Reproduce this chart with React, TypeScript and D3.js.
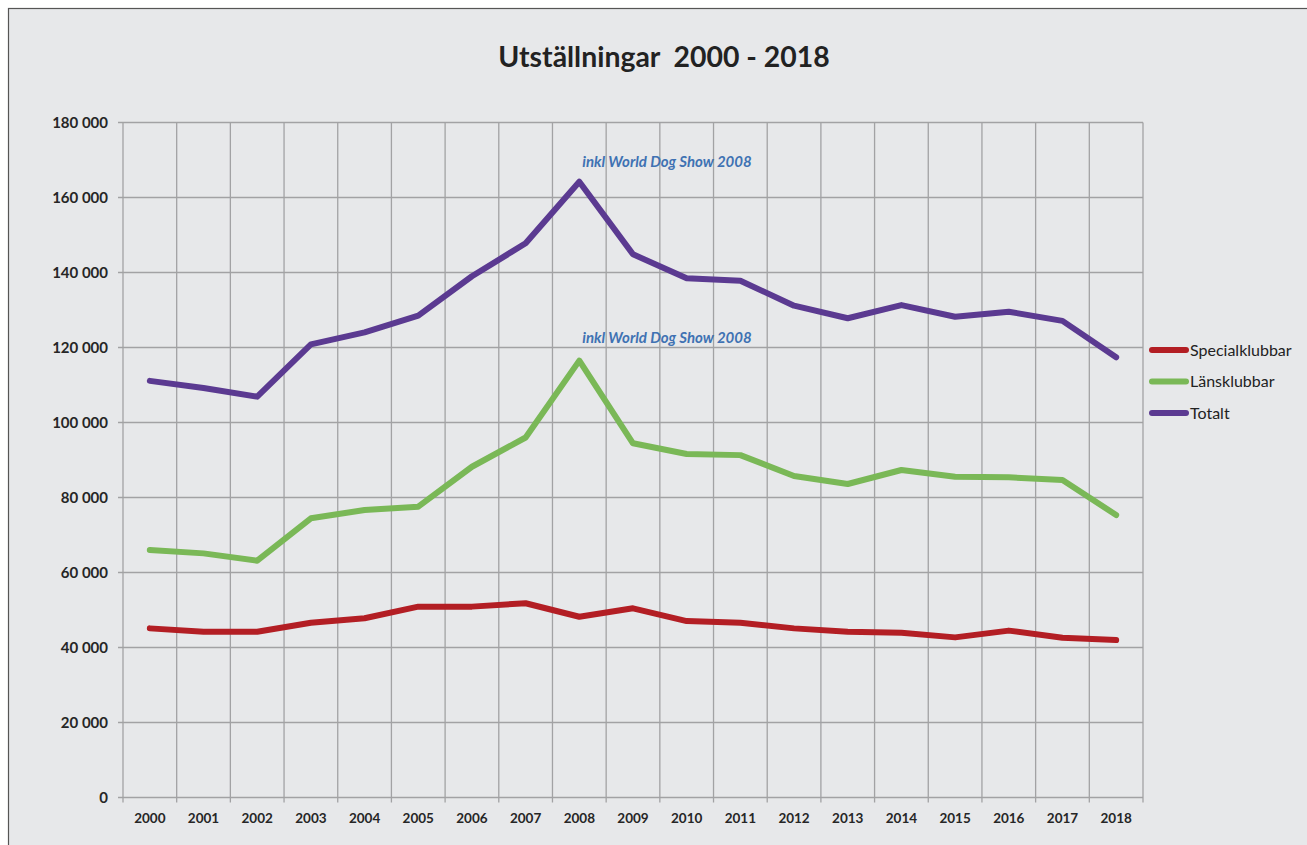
import { useEffect, useRef } from "react";
import * as d3 from "d3";

// values
const years = [
  "2000", "2001", "2002", "2003", "2004", "2005", "2006", "2007", "2008", "2009",
  "2010", "2011", "2012", "2013", "2014", "2015", "2016", "2017", "2018",
];

const specialklubbar = [
  45100, 44200, 44200, 46600, 47800, 50900, 50900, 51800, 48200, 50450,
  47050, 46600, 45100, 44200, 43950, 42700, 44500, 42600, 42000,
];

const lansklubbar = [
  66000, 65100, 63150, 74450, 76670, 77550, 88200, 96000, 116500, 94450,
  91600, 91300, 85730, 83600, 87330, 85550, 85380, 84670, 75330,
];

const totalt = [
  111100, 109200, 106900, 120850, 124050, 128500, 139000, 147800, 164200, 144850,
  138450, 137800, 131150, 127800, 131300, 128200, 129550, 127100, 117400,
];

const seriesNames = ["Specialklubbar", "Länsklubbar", "Totalt"];
const seriesColors = ["#b31e24", "#7ab857", "#5b3a91"];
const yTicks = [0, 20000, 40000, 60000, 80000, 100000, 120000, 140000, 160000, 180000];
const note = "inkl World Dog Show 2008";

const W = 1307;
const H = 845;
const plot = { left: 123, right: 1143, top: 122.5, bottom: 797.5 };
const fmt = (v: number) => d3.format(",")(v).replace(/,/g, " ");

export default function App() {
  const svgRef = useRef<SVGSVGElement>(null);

  useEffect(() => {
    const svg = d3.select(svgRef.current);
    svg.selectAll("*").remove();

    const x = d3.scaleBand().domain(years).range([plot.left, plot.right]).padding(0);
    const y = d3.scaleLinear().domain([0, 180000]).range([plot.bottom, plot.top]);
    const cx = (yr: string) => (x(yr) as number) + x.bandwidth() / 2;

    // frame
    svg
      .append("rect")
      .attr("x", 8.5)
      .attr("y", 8.5)
      .attr("width", W + 20)
      .attr("height", H + 20)
      .attr("fill", "#e7e8ea")
      .attr("stroke", "#555")
      .attr("stroke-width", 1.2);

    svg
      .append("text")
      .attr("x", 664)
      .attr("y", 67)
      .attr("text-anchor", "middle")
      .attr("font-family", "Lato, sans-serif")
      .attr("font-weight", "bold")
      .attr("font-size", 28.4)
      .attr("fill", "#222")
      .style("white-space", "pre")
      .text("Utställningar  2000 - 2018");

    const grid = svg.append("g").attr("stroke", "#a2a2a4").attr("stroke-width", 1.3);

    yTicks.forEach((t) => {
      grid
        .append("line")
        .attr("x1", plot.left - 5)
        .attr("x2", plot.right)
        .attr("y1", y(t))
        .attr("y2", y(t));
    });

    const bounds = years.map((yr) => x(yr) as number).concat([plot.right]);
    bounds.forEach((bx) => {
      grid
        .append("line")
        .attr("x1", bx)
        .attr("x2", bx)
        .attr("y1", plot.top)
        .attr("y2", plot.bottom + 5);
    });

    svg
      .append("g")
      .selectAll("text")
      .data(yTicks)
      .join("text")
      .attr("x", 108)
      .attr("y", (d) => y(d) + 5.5)
      .attr("text-anchor", "end")
      .attr("font-family", "Lato, sans-serif")
      .attr("font-weight", "bold")
      .attr("font-size", 15)
      .attr("fill", "#262626")
      .text((d) => fmt(d));

    svg
      .append("g")
      .selectAll("text")
      .data(years)
      .join("text")
      .attr("x", (d) => cx(d))
      .attr("y", 822.5)
      .attr("text-anchor", "middle")
      .attr("font-family", "Lato, sans-serif")
      .attr("font-weight", "bold")
      .attr("font-size", 13.5)
      .attr("fill", "#262626")
      .text((d) => d);

    const line = d3
      .line<number>()
      .x((_, i) => cx(years[i]))
      .y((d) => y(d));

    [specialklubbar, lansklubbar, totalt].forEach((vals, i) => {
      svg
        .append("path")
        .datum(vals)
        .attr("d", line)
        .attr("fill", "none")
        .attr("stroke", seriesColors[i])
        .attr("stroke-width", 6)
        .attr("stroke-linecap", "round")
        .attr("stroke-linejoin", "round");
    });

    // annotations over the 2008 peaks
    [167, 343].forEach((ty) => {
      svg
        .append("text")
        .attr("x", 667)
        .attr("y", ty)
        .attr("text-anchor", "middle")
        .attr("font-family", "Lato, sans-serif")
        .attr("font-weight", "bold")
        .attr("font-style", "italic")
        .attr("font-size", 15)
        .attr("fill", "#3f72b3")
        .text(note);
    });

    const legend = svg.append("g").attr("transform", "translate(1150, 350)");
    seriesNames.forEach((name, i) => {
      const row = legend.append("g").attr("transform", `translate(0, ${i * 31.5})`);
      row
        .append("line")
        .attr("x1", 2)
        .attr("x2", 36)
        .attr("y1", 0)
        .attr("y2", 0)
        .attr("stroke", seriesColors[i])
        .attr("stroke-width", 6)
        .attr("stroke-linecap", "round");
      row
        .append("text")
        .attr("x", 40)
        .attr("y", 5.5)
        .attr("font-family", "Lato, sans-serif")
        .attr("font-size", 16)
        .attr("fill", "#222")
        .text(name);
    });
  }, []);

  return (
    <svg
      ref={svgRef}
      width={W}
      height={H}
      style={{ position: "fixed", left: 0, top: 0, background: "#fff" }}
    />
  );
}
